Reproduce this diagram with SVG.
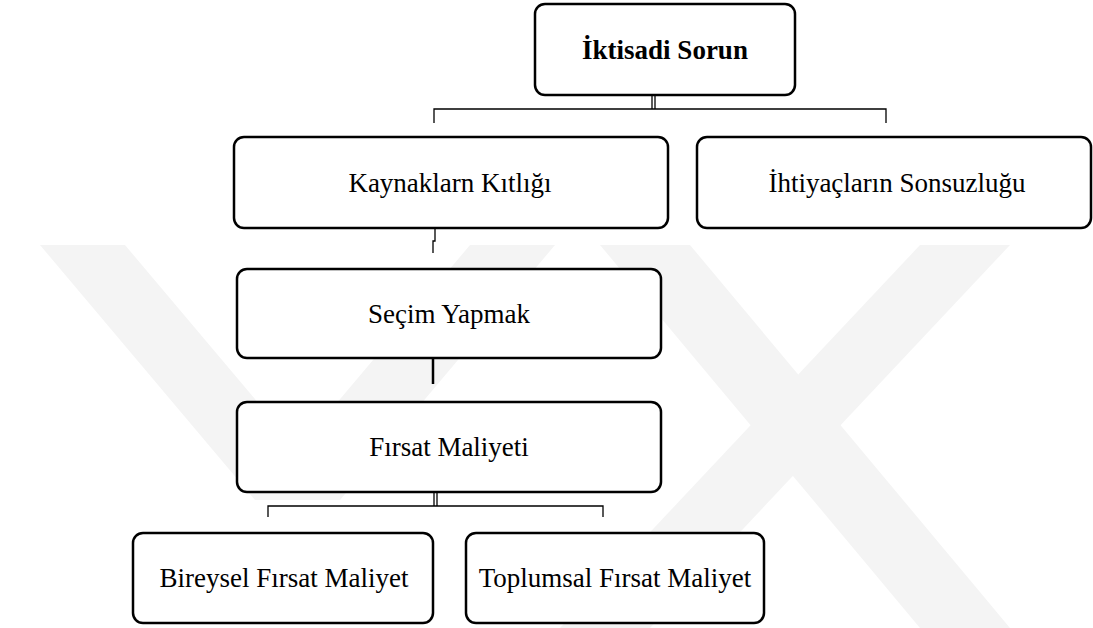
<svg xmlns="http://www.w3.org/2000/svg" width="1093" height="628" viewBox="0 0 1093 628">
<style>
.box{fill:#fff;stroke:#000;stroke-width:2.5}
.t{font-family:'Liberation Serif','Times New Roman',Tinos,Times,serif;font-size:27px;fill:#000;text-anchor:middle}
.b{font-weight:bold}
.c{fill:none;stroke:#000;stroke-width:1.3}
.ck{fill:none;stroke:#000;stroke-width:2.5}
.wm{fill:#f4f4f4}
</style>
<rect width="1093" height="628" fill="#fff"/>
<g id="watermark">
<polygon class="wm" points="40,245 125,245 340,500 255,500"/>
<polygon class="wm" points="470,245 555,245 340,500 255,500"/>
<polygon class="wm" points="600,245 690,245 1010,628 920,628"/>
<polygon class="wm" points="920,245 1010,245 650,628 560,628"/>
</g>
<g id="connectors">
<line class="c" x1="652" y1="95" x2="652" y2="109"/>
<line class="c" x1="655" y1="95" x2="655" y2="109"/>
<path class="c" d="M434,123 V109 H886 V123"/>
<path class="c" d="M435,228 V241 H433 V253"/>
<path class="ck" d="M433,358 V384"/>
<line class="c" x1="434" y1="492" x2="434" y2="506"/>
<line class="c" x1="437" y1="492" x2="437" y2="506"/>
<path class="c" d="M268,517 V506 H603 V517"/>
</g>
<g id="n-iktisadi">
<rect class="box" x="535" y="4" width="260" height="91" rx="10"/>
<text class="t b" x="665" y="59">İktisadi Sorun</text>
</g>
<g id="n-kaynak">
<rect class="box" x="234" y="137" width="434" height="91" rx="10"/>
<text class="t" x="450" y="192">Kaynaklarn Kıtlığı</text>
</g>
<g id="n-ihtiyac">
<rect class="box" x="697" y="137" width="394" height="91" rx="10"/>
<text class="t" x="897" y="192">İhtiyaçların Sonsuzluğu</text>
</g>
<g id="n-secim">
<rect class="box" x="237" y="269" width="424" height="89" rx="10"/>
<text class="t" x="449" y="323">Seçim Yapmak</text>
</g>
<g id="n-firsat">
<rect class="box" x="237" y="402" width="424" height="90" rx="10"/>
<text class="t" x="449" y="456">Fırsat Maliyeti</text>
</g>
<g id="n-bireysel">
<rect class="box" x="133" y="533" width="300" height="90" rx="10"/>
<text class="t" x="284" y="587">Bireysel Fırsat Maliyet</text>
</g>
<g id="n-toplumsal">
<rect class="box" x="466" y="533" width="298" height="90" rx="10"/>
<text class="t" x="615" y="587">Toplumsal Fırsat Maliyet</text>
</g>
</svg>
